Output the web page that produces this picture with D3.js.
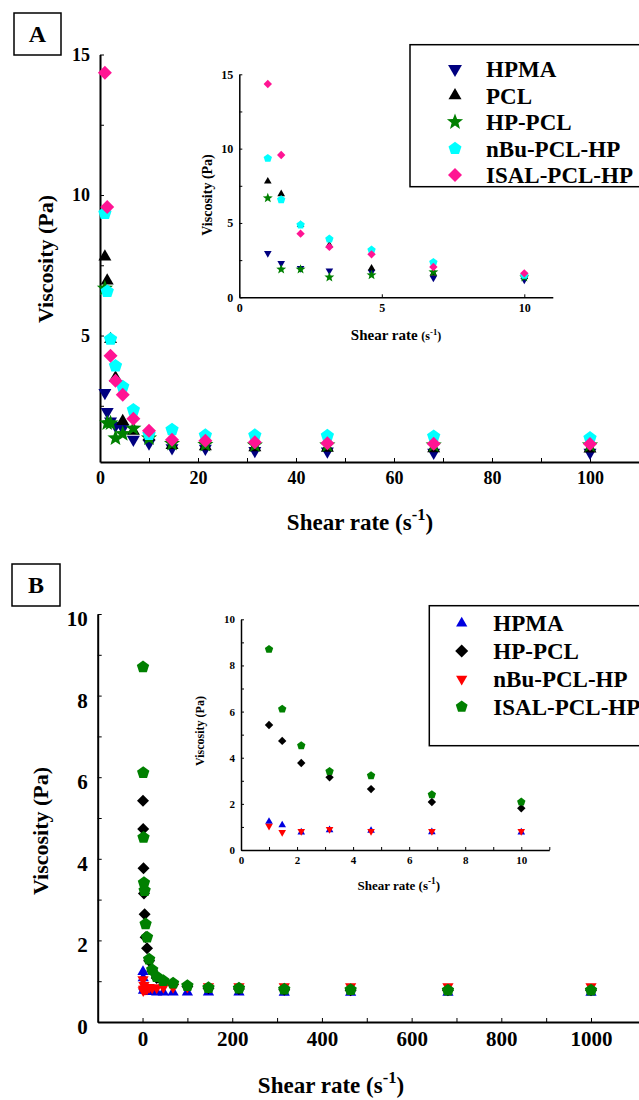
<!DOCTYPE html>
<html><head><meta charset="utf-8">
<script src="https://cdn.jsdelivr.net/npm/d3@7"></script>
<style>
body{margin:0;background:#fff;}
svg{display:block;}
text{font-family:"Liberation Serif","Times New Roman",serif;font-weight:bold;fill:#000;}
</style></head>
<body><svg id="c" width="639" height="1100"></svg>
<script>
// ---------- DATA ----------
const shearA = [1, 1.47, 2.15, 3.16, 4.64, 6.81, 10, 14.7, 21.5, 31.6, 46.4, 68.1, 100];
const namesA = ["HPMA", "PCL", "HP-PCL", "nBu-PCL-HP", "ISAL-PCL-HP"];
const hpmaA  = [2.96, 2.29, 1.95, 1.79, 1.7, 1.3, 1.17, 1.0, 0.98, 0.9, 0.88, 0.84, 0.84];
const pclA   = [7.8, 6.95, 4.87, 3.5, 1.95, 1.6, 1.4, 1.1, 1.05, 1.02, 1.0, 0.98, 0.97];
const hppclA = [6.68, 1.88, 1.88, 1.35, 1.5, 1.7, 1.35, 1.15, 1.12, 1.1, 1.1, 1.1, 1.1];
const nbuA   = [9.35, 6.57, 4.87, 3.92, 3.18, 2.35, 1.48, 1.65, 1.45, 1.45, 1.43, 1.41, 1.35];
const isalA  = [14.35, 9.57, 4.28, 3.39, 2.89, 2.04, 1.61, 1.29, 1.26, 1.2, 1.17, 1.15, 1.14];

const shearB = [1, 1.47, 2.15, 3.16, 4.64, 6.81, 10, 14.7, 21.5, 31.6, 46.4, 68.1, 100, 147, 215, 316, 464, 681, 1000];
const namesB = ["HPMA", "HP-PCL", "nBu-PCL-HP", "ISAL-PCL-HP"];
const hpmaB  = [1.23, 1.08, 0.77, 0.87, 0.84, 0.78, 0.77, 0.74, 0.74, 0.73, 0.73, 0.73, 0.73, 0.73, 0.73, 0.72, 0.72, 0.72, 0.72];
const hppclB = [5.42, 4.73, 3.77, 3.15, 2.64, 2.08, 1.81, 1.5, 1.25, 1.08, 0.98, 0.92, 0.87, 0.83, 0.81, 0.79, 0.78, 0.78, 0.78];
const nbuB   = [1.04, 0.77, 0.81, 0.9, 0.81, 0.81, 0.81, 0.85, 0.84, 0.84, 0.85, 0.85, 0.86, 0.87, 0.87, 0.87, 0.87, 0.87, 0.87];
const isalB  = [8.7, 6.11, 4.52, 3.41, 3.22, 2.4, 2.08, 1.54, 1.28, 1.11, 1.01, 0.95, 0.89, 0.84, 0.83, 0.8, 0.79, 0.78, 0.78];

const ticksAx = [0, 20, 40, 60, 80, 100], ticksAy = [5, 10, 15];
const ticksIAx = [0, 5, 10], ticksIAy = [0, 5, 10, 15];
const ticksBx = [0, 200, 400, 600, 800, 1000], ticksBy = [0, 2, 4, 6, 8, 10];
const ticksIBx = [0, 2, 4, 6, 8, 10], ticksIBy = [0, 2, 4, 6, 8, 10];

// ---------- SYMBOLS ----------
function symPath(type, r) {
  const pts = [];
  if (type === "triUp") { pts.push([0,-r],[r*0.866,r*0.5],[-r*0.866,r*0.5]); }
  else if (type === "triDown") { pts.push([0,r],[r*0.866,-r*0.5],[-r*0.866,-r*0.5]); }
  else if (type === "diamond") { pts.push([0,-r],[r,0],[0,r],[-r,0]); }
  else if (type === "pentagon") { for (let i=0;i<5;i++){const a=-Math.PI/2+i*2*Math.PI/5; pts.push([r*Math.cos(a), r*Math.sin(a)]);} }
  else if (type === "star") { for (let i=0;i<10;i++){const a=-Math.PI/2+i*Math.PI/5; const rr = i%2? r*0.42 : r; pts.push([rr*Math.cos(a), rr*Math.sin(a)]);} }
  return "M" + pts.map(p => p[0].toFixed(2)+","+p[1].toFixed(2)).join("L") + "Z";
}

const svg = d3.select("#c");

const seriesA = [
  {name: namesA[0], vals: hpmaA,  type: "triDown", color: "#000080", rM: 7.5, rI: 4.4, rL: 8},
  {name: namesA[1], vals: pclA,   type: "triUp",   color: "#000000", rM: 7.5, rI: 4.4, rL: 7.5},
  {name: namesA[2], vals: hppclA, type: "star",    color: "#008000", rM: 8.5, rI: 5.2, rL: 8.5},
  {name: namesA[3], vals: nbuA,   type: "pentagon",color: "#00ffff", rM: 7,   rI: 4.4, rL: 6.8},
  {name: namesA[4], vals: isalA,  type: "diamond", color: "#ff1493", rM: 7,   rI: 4.2, rL: 7}
];
const seriesB = [
  {name: namesB[0], vals: hpmaB,  type: "triUp",   color: "#0000e0", rM: 6.5, rI: 4.4, rL: 6.5},
  {name: namesB[1], vals: hppclB, type: "diamond", color: "#000000", rM: 6,   rI: 4.2, rL: 6.5},
  {name: namesB[2], vals: nbuB,   type: "triDown", color: "#ff0000", rM: 6.5, rI: 4.4, rL: 6.5},
  {name: namesB[3], vals: isalB,  type: "pentagon",color: "#008000", rM: 6.5, rI: 4.4, rL: 6.2}
];

// ---------- helpers ----------
function drawAxes(g, x, y, opt) {
  const xa = g.append("g").attr("transform", `translate(0,${y.range()[0]})`)
    .call(d3.axisBottom(x).tickValues(opt.xt).tickSizeInner(-opt.ts).tickSizeOuter(0).tickPadding(opt.xpad).tickFormat(d3.format("d")));
  const ya = g.append("g").attr("transform", `translate(${x.range()[0]},0)`)
    .call(d3.axisLeft(y).tickValues(opt.yt).tickSizeInner(-opt.ts).tickSizeOuter(0).tickPadding(opt.ypad).tickFormat(d3.format("d")));
  [xa, ya].forEach(a => {
    a.select(".domain").attr("stroke", "#000").attr("stroke-width", opt.sw);
    a.selectAll(".tick line").attr("stroke", "#000").attr("stroke-width", 1);
    a.selectAll("text").attr("font-size", opt.fs).attr("font-family", null).attr("fill", "#000");
  });
  ya.selectAll("text").attr("dy", opt.ydy || "0.32em");
  if (opt.xm) g.append("g").attr("transform", `translate(0,${y.range()[0]})`)
    .call(d3.axisBottom(x).tickValues(opt.xm).tickSizeInner(-opt.ts).tickSizeOuter(0).tickFormat(""))
    .call(a => { a.select(".domain").remove(); a.selectAll("line").attr("stroke", "#000"); });
  if (opt.ym) g.append("g").attr("transform", `translate(${x.range()[0]},0)`)
    .call(d3.axisLeft(y).tickValues(opt.ym).tickSizeInner(-opt.ts).tickSizeOuter(0).tickFormat(""))
    .call(a => { a.select(".domain").remove(); a.selectAll("line").attr("stroke", "#000"); });
}
function drawPoints(g, series, xs, x, y, rKey, xmax) {
  series.forEach(s => {
    const pts = xs.map((v, i) => ({x: v, y: s.vals[i]})).filter(d => d.x <= xmax);
    g.append("g").selectAll("path").data(pts).join("path")
      .attr("d", symPath(s.type, s[rKey]))
      .attr("transform", d => `translate(${x(d.x)},${y(d.y)})`)
      .attr("fill", s.color);
  });
}
function shearLabel(g, cx, cy, fs, fsParen) {
  const t = g.append("text").attr("x", cx).attr("y", cy).attr("text-anchor", "middle").attr("font-size", fs);
  t.append("tspan").text("Shear rate ");
  t.append("tspan").attr("font-size", fsParen).text("(s");
  t.append("tspan").attr("font-size", fsParen * 0.72).attr("dy", -fsParen * 0.45).text("-1");
  t.append("tspan").attr("font-size", fsParen).attr("dy", fsParen * 0.45).text(")");
}
function viscLabel(g, cx, cy, fs) {
  g.append("text").attr("transform", `translate(${cx},${cy}) rotate(-90)`)
    .attr("text-anchor", "middle").attr("dy", "0.35em").attr("font-size", fs).text("Viscosity (Pa)");
}
function legend(g, series, x0, y0, h, mx, tx, ry, step, fs) {
  g.append("rect").attr("x", x0).attr("y", y0).attr("width", 260).attr("height", h)
    .attr("fill", "#fff").attr("stroke", "#000").attr("stroke-width", 1.5);
  series.forEach((s, i) => {
    const yy = ry + i * step;
    g.append("path").attr("d", symPath(s.type, s.rL)).attr("transform", `translate(${mx},${yy})`).attr("fill", s.color);
    g.append("text").attr("x", tx).attr("y", yy).attr("dy", "0.35em").attr("font-size", fs).text(s.name);
  });
}
function panelTag(g, x, y, w, h, label) {
  g.append("rect").attr("x", x).attr("y", y).attr("width", w).attr("height", h)
    .attr("fill", "#fff").attr("stroke", "#000").attr("stroke-width", 1.5);
  g.append("text").attr("x", x + w / 2).attr("y", y + h / 2).attr("dy", "0.35em")
    .attr("text-anchor", "middle").attr("font-size", 24).text(label);
}

// ---------- PANEL A ----------
const gA = svg.append("g");
panelTag(gA, 14, 13, 47, 42, "A");
const xA = d3.scaleLinear().domain([0, 110]).range([100, 639]);
const yA = d3.scaleLinear().domain([0.5, 15]).range([462, 54.5]);
drawAxes(gA, xA, yA, {xt: ticksAx, yt: ticksAy, xm: [10, 30, 50, 70, 90], ym: [2.5, 7.5, 12.5], ts: 4, xpad: 9, ypad: 10, fs: 18, sw: 2});
drawPoints(gA, seriesA, shearA, xA, yA, "rM", 1000);
viscLabel(gA, 45, 259, 22);
shearLabel(gA, 360, 530, 23, 23);

// inset A
const xIA = d3.scaleLinear().domain([0, 11]).range([239.3, 552.8]);
const yIA = d3.scaleLinear().domain([0, 15]).range([297.3, 74.3]);
drawAxes(gA, xIA, yIA, {xt: ticksIAx, yt: ticksIAy, ym: [2.5, 7.5, 12.5], ts: 3, xpad: 6, ypad: 6, fs: 12, sw: 1.5});
drawPoints(gA, seriesA, shearA, xIA, yIA, "rI", 10);
viscLabel(gA, 206.7, 195, 14);
shearLabel(gA, 396, 340, 15, 12);

legend(gA, seriesA, 410, 44.7, 142, 455, 486, 69, 26.5, 23);

// ---------- PANEL B ----------
const gB = svg.append("g");
panelTag(gB, 12, 564, 48, 42, "B");
const xB = d3.scaleLinear().domain([-100, 1107]).range([97.7, 639]);
const yB = d3.scaleLinear().domain([0, 10]).range([1022, 614]);
drawAxes(gB, xB, yB, {xt: ticksBx, yt: ticksBy, xm: [100, 300, 500, 700, 900], ym: [1, 3, 5, 7, 9], ts: 4, xpad: 9, ypad: 10, fs: 21, sw: 2, ydy: "0.55em"});
drawPoints(gB, seriesB, shearB, xB, yB, "rM", 10000);
viscLabel(gB, 40, 831, 22);
shearLabel(gB, 331, 1093, 23, 23);

// inset B
const xIB = d3.scaleLinear().domain([0, 11]).range([241, 549.3]);
const yIB = d3.scaleLinear().domain([0, 10]).range([850, 619.3]);
drawAxes(gB, xIB, yIB, {xt: ticksIBx, yt: ticksIBy, xm: [1, 3, 5, 7, 9, 11], ym: [1, 3, 5, 7, 9], ts: 3, xpad: 6, ypad: 6, fs: 11, sw: 1.5});
drawPoints(gB, seriesB, shearB, xIB, yIB, "rI", 10);
viscLabel(gB, 200, 731, 12);
shearLabel(gB, 398.8, 890, 13, 13);

legend(gB, seriesB, 429.3, 605.7, 140, 461.7, 493.3, 623.3, 27.8, 23);
</script></body></html>
